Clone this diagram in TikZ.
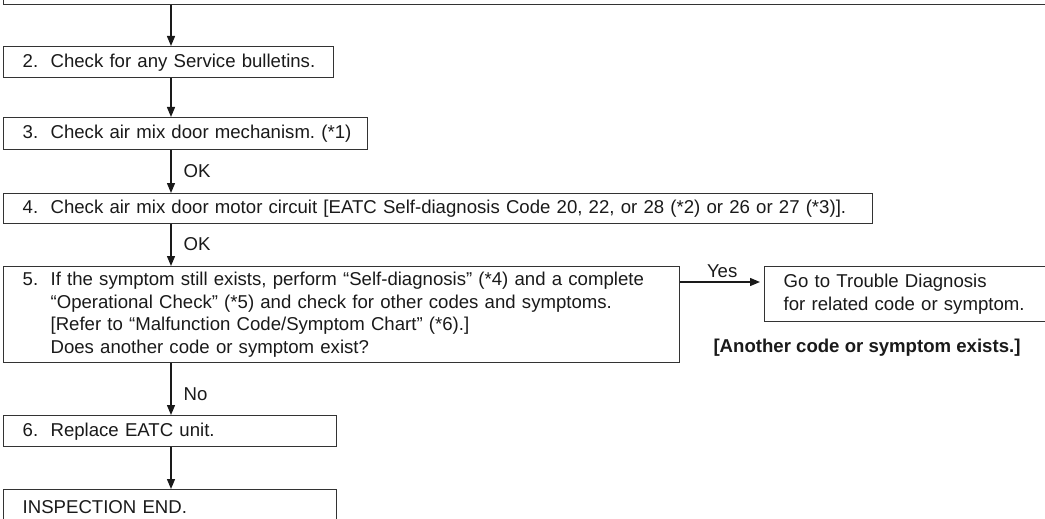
\documentclass[tikz,border=0pt]{standalone}
\usepackage{fontspec}
\setmainfont{Liberation Sans}
\usetikzlibrary{arrows.meta}
\frenchspacing
\definecolor{ink}{HTML}{1A1A1A}
\definecolor{frame}{HTML}{333333}
\tikzset{
  box/.style={draw=frame, line width=1.4pt, rectangle, anchor=north west, inner xsep=19pt, inner ysep=0pt, align=left, font=\fontsize{18.6}{22.7}\selectfont, text=ink},
  arr/.style={draw=ink, line width=1.3pt, -{Triangle[length=10pt,width=8pt]}},
  lbl/.style={font=\fontsize{18.6}{22}\selectfont, text=ink, inner sep=0pt, anchor=west},
}
\begin{document}
\begin{tikzpicture}[x=1pt,y=-1pt]
\useasboundingbox[fill=white] (0,0) rectangle (1045,519);
\begin{scope}
\clip (0,0) rectangle (1045,519);
\coordinate (ax) at (171,0);
\node[box, anchor=south west, minimum width=1060pt, minimum height=40pt] (b1) at (3,5) {};
\node[box, text width=292pt, minimum height=31pt] (b2) at (3,46) {\mbox{2.\ \ Check for any Service bulletins.}};
\node[box, text width=326pt, minimum height=32pt] (b3) at (3,117) {\mbox{3.\ \ Check air mix door mechanism. (*1)}};
\node[box, text width=831pt, minimum height=30pt] (b4) at (3,193) {\mbox{4.\ \ Check air mix door motor circuit [EATC Self-diagnosis Code 20, 22, or 28 (*2) or 26 or 27 (*3)].}};
\node[box, text width=638pt, minimum height=96pt] (b5) at (3,266) {\mbox{5.\ \ If the symptom still exists, perform “Self-diagnosis” (*4) and a complete}\\\mbox{\hphantom{5.\ \ }“Operational Check” (*5) and check for other codes and symptoms.}\\\hphantom{5.\ \ }[Refer to “Malfunction Code/Symptom Chart” (*6).]\\\hphantom{5.\ \ }Does another code or symptom exist?};
\node[box, text width=290pt, minimum height=55pt] (tb) at (764,266) {Go to Trouble Diagnosis\\for related code or symptom.};
\node[font=\bfseries\fontsize{18.6}{22}\selectfont, text=ink, inner sep=0pt] (note) at (867,348) {[Another code or symptom exists.]};
\node[box, text width=295pt, minimum height=31pt] (b6) at (3,415) {\mbox{6.\ \ Replace EATC unit.}};
\node[box, text width=295pt, text height=24pt, text depth=16pt] (b7) at (3,489) {\mbox{INSPECTION END.}};
\draw[arr] (b1.south -| ax) -- (b2.north -| ax);
\draw[arr] (b2.south -| ax) -- (b3.north -| ax);
\draw[arr] (b3.south -| ax) -- node[lbl, at start, xshift=12pt, yshift=-21pt] (ok1) {OK} (b4.north -| ax);
\draw[arr] (b4.south -| ax) -- node[lbl, at start, xshift=12pt, yshift=-20pt] (ok2) {OK} (b5.north -| ax);
\draw[arr] (b5.south -| ax) -- node[lbl, at start, xshift=12pt, yshift=-31pt] (no) {No} (b6.north -| ax);
\draw[arr] (b6.south -| ax) -- (b7.north -| ax);
\coordinate (yy) at (0,282);
\draw[arr, shorten >=4pt] (b5.east |- yy) -- node[font=\fontsize{18.6}{22}\selectfont, text=ink, above=4pt, inner sep=0pt] (yes) {Yes} (tb.west |- yy);
\end{scope}
\end{tikzpicture}
\end{document}
